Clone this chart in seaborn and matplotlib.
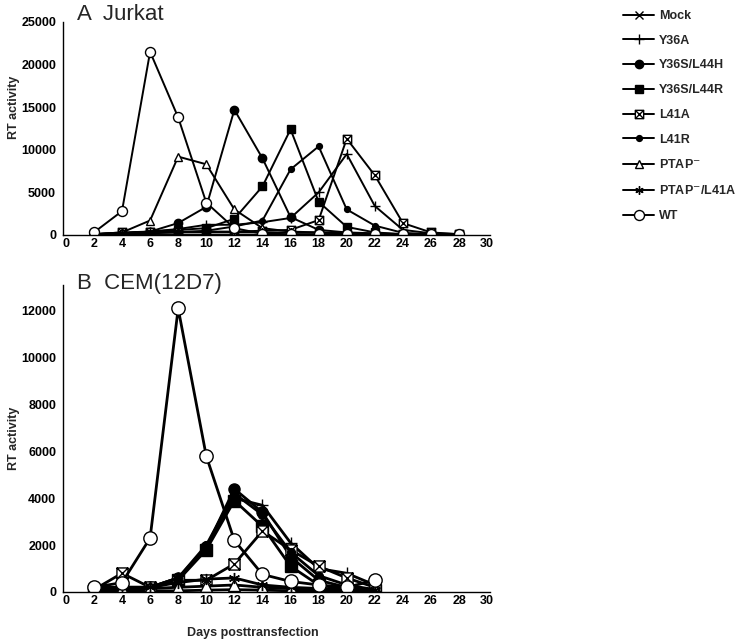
import numpy as np
import pandas as pd
import matplotlib
matplotlib.use("Agg")
import matplotlib.pyplot as plt
import seaborn as sns
from matplotlib.path import Path

# ---- data ----
days_a = [2, 4, 6, 8, 10, 12, 14, 16, 18, 20, 22, 24, 26, 28]
days_b = [2, 4, 6, 8, 10, 12, 14, 16, 18, 20, 22]

series_names = ["Mock", "Y36A", "Y36S/L44H", "Y36S/L44R", "L41A", "L41R",
                "PTAP$^{-}$", "PTAP$^{-}$/L41A", "WT"]

jurkat_mock = [50, 50, 50, 50, 50, 50, 50, 50, 50, 50, 50, 50, 50, 50]
jurkat_y36a = [100, 200, 400, 700, 1200, 1200, 1500, 2000, 5000, 9500, 3400, 600, 200, 100]
jurkat_y36s_l44h = [100, 200, 400, 1400, 3300, 14700, 9000, 2100, 600, 300, 200, 100, 100, 50]
jurkat_y36s_l44r = [100, 200, 400, 600, 800, 1900, 5700, 12400, 3900, 950, 300, 100, 50, 50]
jurkat_l41a = [100, 300, 400, 400, 400, 400, 500, 600, 1750, 11300, 7000, 1400, 300, 100]
jurkat_l41r = [50, 100, 200, 300, 500, 1000, 1700, 7700, 10400, 3000, 1100, 250, 100, 50]
jurkat_ptap = [100, 300, 1700, 9200, 8300, 3000, 800, 400, 300, 200, 100, 100, 50, 50]
jurkat_ptap_l41a = [100, 200, 300, 300, 300, 300, 300, 300, 300, 200, 150, 100, 50, 50]
jurkat_wt = [300, 2800, 21500, 13800, 3800, 800, 150, 100, 100, 100, 100, 100, 100, 100]

cem_mock = [50, 50, 50, 50, 80, 100, 80, 50, 50, 50, 50]
cem_y36a = [100, 200, 200, 600, 1900, 4000, 3700, 2100, 1000, 800, 300]
cem_y36s_l44h = [100, 200, 200, 600, 1900, 4400, 3400, 1500, 500, 200, 100]
cem_y36s_l44r = [50, 150, 150, 500, 1800, 3900, 2800, 1100, 300, 100, 100]
cem_l41a = [100, 800, 200, 500, 500, 1200, 2600, 1800, 1100, 600, 200]
cem_l41r = [100, 200, 200, 600, 2000, 4200, 3300, 1700, 700, 300, 100]
cem_ptap = [100, 150, 150, 200, 250, 300, 200, 150, 100, 100, 100]
cem_ptap_l41a = [200, 200, 200, 400, 550, 600, 300, 200, 150, 100, 100]
cem_wt = [200, 400, 2300, 12100, 5800, 2200, 750, 450, 300, 200, 500]

jurkat = [jurkat_mock, jurkat_y36a, jurkat_y36s_l44h, jurkat_y36s_l44r, jurkat_l41a,
          jurkat_l41r, jurkat_ptap, jurkat_ptap_l41a, jurkat_wt]
cem = [cem_mock, cem_y36a, cem_y36s_l44h, cem_y36s_l44r, cem_l41a,
       cem_l41r, cem_ptap, cem_ptap_l41a, cem_wt]

# crossed square marker (square with an X inside)
crossed_square = Path(
    [(-1, -1), (1, -1), (1, 1), (-1, 1), (-1, -1), (-1, -1), (1, 1), (-1, 1), (1, -1)],
    [Path.MOVETO, Path.LINETO, Path.LINETO, Path.LINETO, Path.CLOSEPOLY,
     Path.MOVETO, Path.LINETO, Path.MOVETO, Path.LINETO])

# marker, face colour, relative size
styles = [
    ("x", "black", 0.85),
    ("+", "black", 1.1),
    ("o", "black", 1.0),
    ("s", "black", 1.0),
    (crossed_square, "white", 1.0),
    ("o", "black", 0.7),
    ("^", "white", 1.0),
    ((6, 2, 0), "black", 1.0),
    ("o", "white", 1.2),
]

sns.set_theme(style="white")
plt.rcParams["font.family"] = ["Liberation Sans", "DejaVu Sans"]

fig = plt.figure(figsize=(7.39, 6.44), dpi=100)
W, H = 739, 644
ax_a = fig.add_axes([63 / W, 1 - 235 / H, 427 / W, 213 / H])
ax_b = fig.add_axes([63 / W, 1 - 592 / H, 427 / W, 307 / H])


def draw_panel(ax, days, values, msize, lw):
    for name, vals, (mk, fc, rel) in zip(series_names, values, styles):
        df = pd.DataFrame({"day": days, "rt": vals})
        sns.lineplot(data=df, x="day", y="rt", ax=ax, color="black", lw=lw,
                     marker=mk, markersize=msize * rel, markerfacecolor=fc,
                     markeredgecolor="black", markeredgewidth=1.0,
                     label=name, legend=False)
    ax.set_xlim(-0.2, 30.2)
    ax.set_xticks(range(0, 31, 2))
    for side in ["top", "right"]:
        ax.spines[side].set_visible(False)
    for side in ["left", "bottom"]:
        ax.spines[side].set_color("black")
        ax.spines[side].set_linewidth(1.0)
    ax.tick_params(axis="both", labelsize=9, colors="black", length=3, width=1,
                   direction="out", pad=2)
    ax.tick_params(axis="x", direction="in")
    for lab in ax.get_xticklabels() + ax.get_yticklabels():
        lab.set_fontweight("bold")
    ax.set_ylabel("RT activity", fontsize=9, fontweight="bold")
    ax.grid(False)


draw_panel(ax_a, days_a, jurkat, 6, 1.4)
ax_a.set_ylim(0, 25000)
ax_a.set_yticks(range(0, 25001, 5000))
for lab in ax_a.get_yticklabels():
    lab.set_fontweight("bold")
ax_a.set_xlabel("")
ax_a.yaxis.set_label_coords(-0.10, 0.6)

draw_panel(ax_b, days_b, cem, 8, 2.0)
ax_b.set_ylim(0, 13100)
ax_b.set_yticks(range(0, 12001, 2000))
for lab in ax_b.get_yticklabels():
    lab.set_fontweight("bold")
ax_b.set_xlabel("Days posttransfection", fontsize=9, fontweight="bold")
ax_b.xaxis.set_label_coords(0.445, -0.115)
ax_b.yaxis.set_label_coords(-0.10, 0.5)

fig.text(77 / W, 1 - 4 / H, "A  Jurkat", fontsize=16, va="top", ha="left")
fig.text(77 / W, 1 - 273 / H, "B  CEM(12D7)", fontsize=16, va="top", ha="left")

handles, labels = ax_a.get_legend_handles_labels()
leg = fig.legend(handles, labels, loc="upper left", bbox_to_anchor=(618 / W, 1 - 5 / H),
                 frameon=False, prop={"size": 9, "weight": "bold"},
                 handlelength=2.5, handletextpad=0.35, labelspacing=1.02,
                 borderaxespad=0)

fig.savefig("out.png", dpi=100)
